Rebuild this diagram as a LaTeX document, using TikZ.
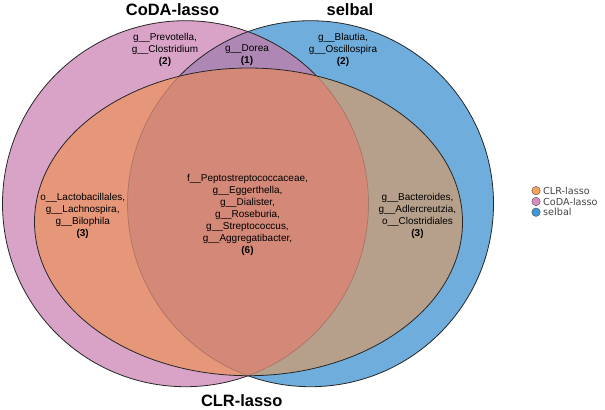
\documentclass[tikz,border=0pt]{standalone}
\usepackage{fontspec}
\setmainfont{Liberation Sans}
\newfontfamily\legfont{DejaVu Sans}
\definecolor{pinkonly}{HTML}{D9A3C7}
\definecolor{blueonly}{HTML}{6FAEDC}
\definecolor{pinkblue}{HTML}{AE87B4}
\definecolor{orangepink}{HTML}{E69679}
\definecolor{orangeblue}{HTML}{B6A08B}
\definecolor{allthree}{HTML}{D48878}
\definecolor{legorange}{HTML}{F7A35C}
\definecolor{legpink}{HTML}{D98BC2}
\definecolor{legblue}{HTML}{3E97D6}
\definecolor{legtext}{HTML}{444444}
\newcommand\pinkpath{(185.5,203.7) circle [radius=183bp]}
\newcommand\bluepath{(310.5,203.7) circle [radius=183bp]}
\newcommand\orangepath{(248.5,221.85) ellipse [x radius=214bp, y radius=153.85bp]}
\tikzset{
  setlabel/.style={font=\fontsize{16.5}{18}\selectfont\bfseries, inner sep=0pt},
  regionlabel/.style={font=\fontsize{10}{12.1}\selectfont, align=center, inner sep=0pt},
  outline/.style={draw=black!85, line width=0.8bp},
  faintline/.style={draw=black, opacity=0.18, line width=0.7bp},
  legdot/.style={circle, draw=black!70, line width=0.4bp, minimum size=8.5bp, inner sep=0pt},
  legtextstyle/.style={font=\legfont\fontsize{9.7}{11}\selectfont, text=legtext, anchor=west, inner sep=0pt}
}
\begin{document}
\begin{tikzpicture}[x=1bp,y=-1bp]
\useasboundingbox (0,0) rectangle (605,409);
% single sets
\fill[pinkonly] \pinkpath;
\fill[blueonly] \bluepath;
% pink & blue
\begin{scope}
  \clip \pinkpath;
  \fill[pinkblue] \bluepath;
\end{scope}
% outer outlines (drawn before orange layer)
\path[outline] \pinkpath;
\path[outline] \bluepath;
% orange region parts
\begin{scope}
  \clip \orangepath;
  \fill[orangepink] \pinkpath;
  \fill[orangeblue] \bluepath;
  \begin{scope}
    \clip \pinkpath;
    \fill[allthree] \bluepath;
  \end{scope}
  \path[faintline] \pinkpath;
  \path[faintline] \bluepath;
\end{scope}
\path[outline] \orangepath;

% set labels
\node[setlabel] (coda) at (172.5,9.5) {CoDA-lasso};
\node[setlabel] (selbal) at (350,9.5) {selbal};
\node[setlabel] (clr) at (241.7,401) {CLR-lasso};

% region labels
\node[regionlabel] (pinkreg) at (165,49.5) {g\_\_Prevotella,\\g\_\_Clostridium\\\textbf{(2)}};
\node[regionlabel] (dorea) at (247,55.5) {g\_\_Dorea\\\textbf{(1)}};
\node[regionlabel] (bluereg) at (343,49.5) {g\_\_Blautia,\\g\_\_Oscillospira\\\textbf{(2)}};
\node[regionlabel] (leftreg) at (82.7,215.5) {o\_\_Lactobacillales,\\g\_\_Lachnospira,\\g\_\_Bilophila\\\textbf{(3)}};
\node[regionlabel] (center) at (247.5,215) {f\_\_Peptostreptococcaceae,\\g\_\_Eggerthella,\\g\_\_Dialister,\\g\_\_Roseburia,\\g\_\_Streptococcus,\\g\_\_Aggregatibacter,\\\textbf{(6)}};
\node[regionlabel] (rightreg) at (417.5,215.5) {g\_\_Bacteroides,\\g\_\_Adlercreutzia,\\o\_\_Clostridiales\\\textbf{(3)}};

% legend
\node[legdot, fill=legorange] (dclr) at (536,190.7) {};
\node[legdot, fill=legpink] (dcoda) at (536,201.5) {};
\node[legdot, fill=legblue] (dsel) at (536,212.2) {};
\node[legtextstyle] (tclr) at (543,190.7) {CLR-lasso};
\node[legtextstyle] (tcoda) at (543,201.5) {CoDA-lasso};
\node[legtextstyle] (tsel) at (543,212.2) {selbal};
\end{tikzpicture}
\end{document}
